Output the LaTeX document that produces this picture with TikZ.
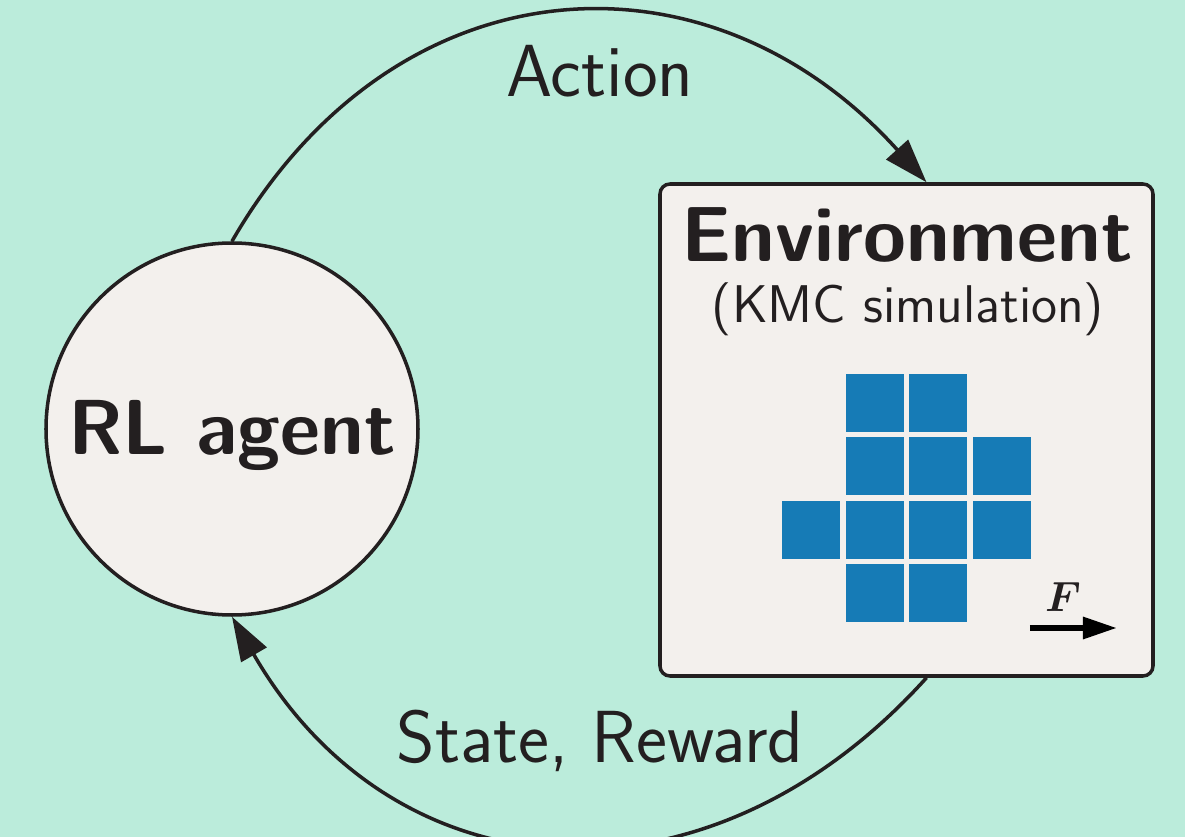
\documentclass[tikz,border=0pt]{standalone}
\usepackage{fontspec}
\usepackage{amsmath,bm}
\usepackage{xcolor}
\usepackage{tikz}
\usetikzlibrary{positioning,arrows.meta}
\definecolor{mint}{HTML}{BBECDB}
\definecolor{paper}{HTML}{F3F0ED}
\definecolor{ink}{HTML}{231F20}
\definecolor{site}{HTML}{167BB6}

\begin{document}
\begin{tikzpicture}[color=ink,
  agentc/.style={circle, draw=ink, fill=paper, line width=1pt, minimum size=3.72cm, inner sep=0pt},
  envbox/.style={rectangle, rounded corners=1mm, draw=ink, fill=paper, line width=1pt, minimum width=4.93cm, minimum height=4.92cm, inner sep=0pt},
  sq/.style={rectangle, fill=site, minimum size=0.58cm, inner sep=0pt},
  loopar/.style={-{Triangle[length=4.4mm, width=2.9mm]}, line width=1pt, ink},
  lbl/.style={font=\sffamily\fontsize{21}{25}\selectfont, text=ink, anchor=base, inner sep=0pt},
  bigb/.style={font=\sffamily\bfseries\fontsize{22.2}{27}\selectfont, text=ink, anchor=base, inner sep=0pt},
  sub/.style={font=\sffamily\fontsize{15.1}{18}\selectfont, text=ink, anchor=base, inner sep=0pt}]
% background
\useasboundingbox (0,0) rectangle (11.85,-8.37);
\fill[mint] (0,0) rectangle (11.85,-8.37);
\clip (0,0) rectangle (11.85,-8.37);
% agent
\node[agentc] (agent) at (2.32,-4.29) {};
\node[bigb] (agentlbl) at (2.32,-4.55) {RL agent};
% environment
\node[envbox] (env) at (9.065,-4.30) {};
\node[bigb] (envlbl) at (9.07,-2.62) {Environment};
\node[sub] (envsub) at (9.08,-3.22) {(KMC simulation)};
\foreach \p [count=\i] in {(8.75,-4.03),(9.38,-4.03),(8.75,-4.66),(9.38,-4.66),(10.02,-4.66),(8.11,-5.30),(8.75,-5.30),(9.38,-5.30),(10.02,-5.30),(8.75,-5.93),(9.38,-5.93)} \node[sq] (s\i) at \p {};
% force
\coordinate (ftail) at (10.30,-6.28);
\coordinate (fhead) at (11.17,-6.28);
\draw[-{Triangle[length=3.4mm, width=2.1mm]}, line width=1.7pt, black] (ftail) -- (fhead);
\node[font=\fontsize{12}{14}\selectfont, inner sep=0pt] (flbl) at (10.63,-5.97) {$\bm{F}$};
% loop
\coordinate (actin) at ([xshift=2mm]env.north);
\coordinate (stout) at ([xshift=2mm]env.south);
\draw[loopar] (agent.north) to[out=60, in=132, looseness=1.2] (actin);
\draw[loopar] (stout) to[out=-132, in=-60, looseness=1.2] (agent.south);
\node[lbl] (actlbl) at (6.00,-0.97) {Action};
\node[lbl] (stlbl) at (6.00,-7.62) {State, Reward};
\end{tikzpicture}
\end{document}
